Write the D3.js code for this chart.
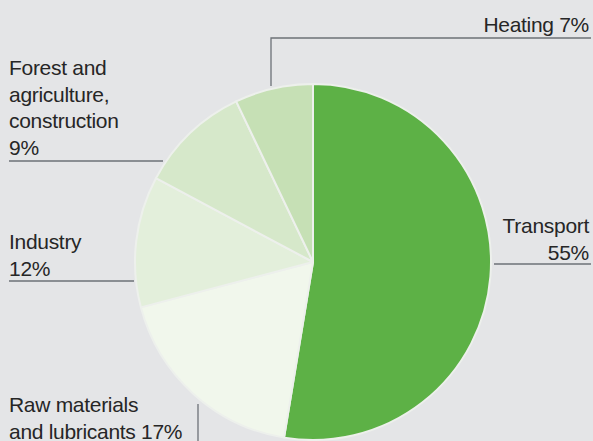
<!DOCTYPE html>
<html>
<head>
<meta charset="utf-8">
<script src="https://cdn.jsdelivr.net/npm/d3@7"></script>
<style>
  html, body { margin: 0; padding: 0; background: #e4e5e7; }
  svg text { font-family: "Liberation Sans", Arial, sans-serif; fill: #262626; }
</style>
</head>
<body>
<div id="chart"></div>
<script>
// categories, drawn in clockwise order from 12 o'clock
const categories = ["Transport", "Raw materials and lubricants", "Industry", "Forest and agriculture, construction", "Heating"];
// printed shares (labels)
const percentLabels = ["55%", "17%", "12%", "9%", "7%"];
// slice sizes as drawn in the picture
const sliceShares = [52.6, 18.3, 11.9, 10.1, 7.1];
const sliceColors = ["#5db146", "#f1f7ec", "#e3efdb", "#d6e8ca", "#c6e0b5"];

const width = 593, height = 441;
const cx = 313, cy = 262, radius = 178;

const svg = d3.select("#chart").append("svg")
    .attr("width", width)
    .attr("height", height);

const pie = d3.pie().sort(null).value(d => d);
const arc = d3.arc().innerRadius(0).outerRadius(radius);

const g = svg.append("g").attr("transform", `translate(${cx},${cy})`);

g.selectAll("path")
  .data(pie(sliceShares))
  .join("path")
    .attr("d", arc)
    .attr("fill", (d, i) => sliceColors[i])
    .attr("stroke", "#edf0ec")
    .attr("stroke-width", 2)
    .attr("stroke-linejoin", "round");

// labels with leader lines
const lineColor = "#6c7177";
const labels = [
  { lines: ["Transport", percentLabels[0]], x: 589, anchor: "end", y0: 233,
    rule: [[494, 264], [591, 264]] },
  { lines: ["Raw materials", "and lubricants " + percentLabels[1]], x: 9, anchor: "start", y0: 412,
    rule: [[198, 404], [198, 441]] },
  { lines: ["Industry", percentLabels[2]], x: 9, anchor: "start", y0: 249,
    rule: [[9, 281], [134, 281]] },
  { lines: ["Forest and", "agriculture,", "construction", percentLabels[3]], x: 9, anchor: "start", y0: 75,
    rule: [[9, 161], [163, 161]] },
  { lines: [categories[4] + " " + percentLabels[4]], x: 589, anchor: "end", y0: 32,
    rule: [[591, 38], [271, 38], [271, 86]] }
];

labels.forEach(l => {
  const t = svg.append("text")
      .attr("text-anchor", l.anchor)
      .attr("font-size", "21px")
      .attr("letter-spacing", "-0.3px");
  l.lines.forEach((s, j) => {
    t.append("tspan").attr("x", l.x).attr("y", l.y0 + j * 26.5).text(s);
  });
  svg.append("path")
      .attr("d", d3.line()(l.rule))
      .attr("fill", "none")
      .attr("stroke", lineColor)
      .attr("stroke-width", 1.3);
});
</script>
</body>
</html>
